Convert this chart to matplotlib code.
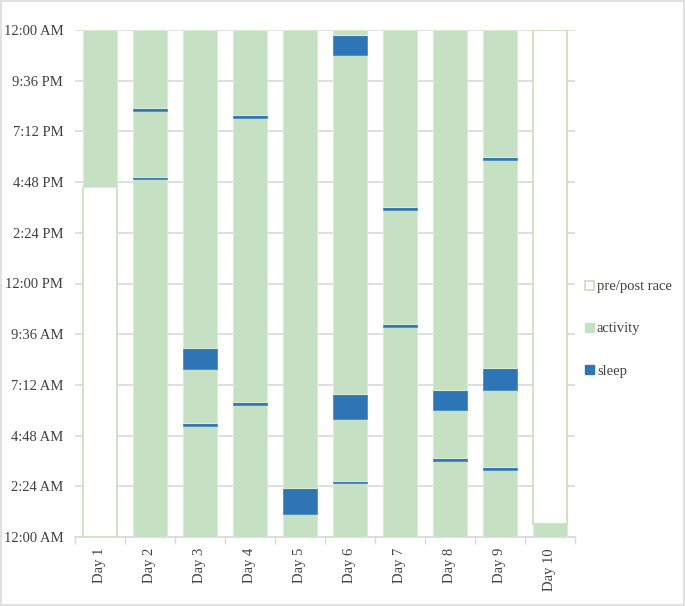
import matplotlib
matplotlib.use("Agg")
import matplotlib.pyplot as plt
from matplotlib.patches import Patch, Rectangle

# ---- data (fraction of a day, from midnight upward) ----
days = ['Day 1', 'Day 2', 'Day 3', 'Day 4', 'Day 5', 'Day 6', 'Day 7', 'Day 8', 'Day 9', 'Day 10']
series_names = ['pre/post race', 'activity', 'sleep']

# segment kinds per day, bottom to top
day_kinds = [
    ['pre', 'act'],
    ['act', 'sleep', 'act', 'sleep', 'act'],
    ['act', 'sleep', 'act', 'sleep', 'act'],
    ['act', 'sleep', 'act', 'sleep', 'act'],
    ['act', 'sleep', 'act'],
    ['act', 'sleep', 'act', 'sleep', 'act', 'sleep', 'act'],
    ['act', 'sleep', 'act', 'sleep', 'act'],
    ['act', 'sleep', 'act', 'sleep', 'act'],
    ['act', 'sleep', 'act', 'sleep', 'act', 'sleep', 'act'],
    ['act', 'pre'],
]
# upper boundary of each segment (fraction of day)
day_tops = [
    [0.691, 1.0],
    [0.707, 0.710, 0.841, 0.846, 1.0],
    [0.219, 0.225, 0.331, 0.373, 1.0],
    [0.260, 0.266, 0.827, 0.833, 1.0],
    [0.045, 0.097, 1.0],
    [0.106, 0.111, 0.232, 0.283, 0.951, 0.990, 1.0],
    [0.415, 0.421, 0.645, 0.651, 1.0],
    [0.150, 0.156, 0.250, 0.289, 1.0],
    [0.132, 0.138, 0.289, 0.333, 0.743, 0.749, 1.0],
    [0.026, 1.0],
]
ytick_values = [0.0, 0.1, 0.2, 0.3, 0.4, 0.5, 0.6, 0.7, 0.8, 0.9, 1.0]
ytick_labels = ['12:00 AM', '2:24 AM', '4:48 AM', '7:12 AM', '9:36 AM', '12:00 PM',
                '2:24 PM', '4:48 PM', '7:12 PM', '9:36 PM', '12:00 AM']

# ---- style ----
plt.rcParams['font.family'] = ['Liberation Serif', 'DejaVu Serif']
C_ACT = '#c5e0c3'
C_ACT_EDGE = '#d9edd3'
C_PRE_EDGE = '#c5e0b4'
C_SLEEP = '#2e75b6'
styles = {
    'pre': dict(color='white', edgecolor=C_PRE_EDGE, linewidth=1.2),
    'act': dict(color=C_ACT, edgecolor=C_ACT_EDGE, linewidth=0.8),
    'sleep': dict(color=C_SLEEP, edgecolor=C_SLEEP, linewidth=0.4),
}

fig = plt.figure(figsize=(6.85, 6.06), dpi=100)
ax = fig.add_axes([75/685, 1 - 537/606, 500/685, 507/606])

width = 0.68
for i, (kinds, tops) in enumerate(zip(day_kinds, day_tops)):
    bottom = 0.0
    for k, t in zip(kinds, tops):
        ax.bar(i, t - bottom, bottom=bottom, width=width, zorder=3, **styles[k])
        bottom = t

ax.set_xlim(-0.5, len(days) - 0.5)
ax.set_ylim(0, 1)
ax.set_yticks(ytick_values)
ax.set_yticklabels(ytick_labels, fontsize=10.5, color='#404040')
ax.set_xticks(range(len(days)))
ax.set_xticklabels(days, rotation=90, fontsize=10.5, color='#404040')
ax.tick_params(axis='y', length=0, pad=8.5)
ax.tick_params(axis='x', length=0, pad=8)
# minor ticks between categories
ax.set_xticks([i - 0.5 for i in range(len(days) + 1)], minor=True)
ax.tick_params(axis='x', which='minor', length=5, color='#d9d9d9', width=1)
ax.grid(axis='y', color='#d9d9d9', linewidth=1.2, zorder=0)
for s in ['top', 'right', 'left']:
    ax.spines[s].set_visible(False)
ax.spines['bottom'].set_color('#d9d9d9')
ax.spines['bottom'].set_linewidth(1.2)

handles = [
    Patch(facecolor='white', edgecolor=C_PRE_EDGE, linewidth=1.2),
    Patch(facecolor=C_ACT, edgecolor=C_ACT),
    Patch(facecolor=C_SLEEP, edgecolor=C_SLEEP),
]
leg = fig.legend(handles, series_names, loc='upper left', bbox_to_anchor=(578/685, 1 - 273/606),
                 frameon=False, fontsize=10.5, handlelength=0.6, handleheight=0.6,
                 handletextpad=0.2, labelspacing=2.0, borderpad=0)
for t in leg.get_texts():
    t.set_color('#404040')

fig.patches.append(Rectangle((0.001, 0.001), 0.997, 0.997, transform=fig.transFigure,
                             fill=False, edgecolor='#dcdcdc', linewidth=1.2))

fig.savefig('out.png', dpi=100)
